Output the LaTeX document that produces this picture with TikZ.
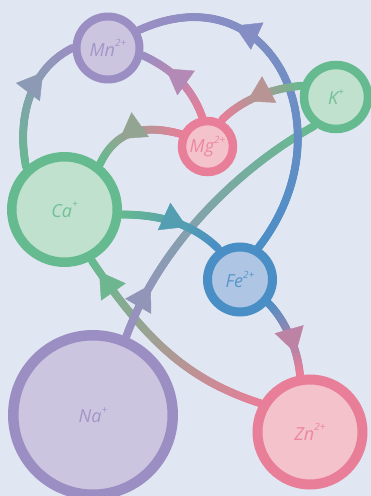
\documentclass[tikz,border=0pt]{standalone}
\usepackage{fontspec}
\setmainfont{Open Sans}
\usetikzlibrary{arrows.meta,decorations.markings}

\definecolor{bgcol}{HTML}{E1E7F2}
\definecolor{purpline}{HTML}{9B8EC3}
\definecolor{purpfill}{HTML}{CBC5E0}
\definecolor{pinkline}{HTML}{E97E98}
\definecolor{pinkfill}{HTML}{F4C2CB}
\definecolor{greenline}{HTML}{66BA8F}
\definecolor{greenfill}{HTML}{BFE1CD}
\definecolor{blueline}{HTML}{4A8EC6}
\definecolor{bluefill}{HTML}{AEC6E4}

\pgfdeclarelayer{front}
\pgfsetlayers{main,front}

\newcommand{\chg}[1]{\raisebox{1ex}{\fontsize{10}{10}\selectfont #1}}

\begin{document}
\begin{tikzpicture}[x=1pt,y=1pt]
\tikzset{
ion/.style={circle, draw, inner sep=0pt, line width=8.5pt, text centered,
font=\itshape\fontsize{18}{18}\selectfont},
purpleion/.style={draw=purpline, fill=purpfill, text=purpline!85!purpfill},
pinkion/.style={draw=pinkline, fill=pinkfill, text=pinkline!85!pinkfill},
greenion/.style={draw=greenline, fill=greenfill, text=greenline!85!greenfill},
blueion/.style={draw=blueline, fill=bluefill, text=blueline!85!bluefill},
flow/.style n args={3}{
postaction={decorate, decoration={markings,
mark=between positions 0 and 1 step 1pt with {
\pgfmathtruncatemacro\pct{\pgfkeysvalueof{/pgf/decoration/mark info/distance from start}/\pgfdecoratedpathlength*100}
\fill[#2!\pct!#1] (0,0) circle (4pt);}}},
postaction={decorate, decoration={markings,
mark=at position #3 with {
\pgfmathtruncatemacro\pct{100*#3}
\arrow[#2!\pct!#1]{Triangle[length=25pt,width=30pt]}}}}},
}
\useasboundingbox (0,0) rectangle (371,496);
\fill[bgcol] (0,0) rectangle (371,496);

\begin{pgfonlayer}{front}
\node [ion, greenion, minimum size=105.5pt, line width=9.5pt] (ca) at (64.5,286.5) {Ca\chg{+}};
\node [ion, purpleion, minimum size=63pt, line width=8pt, above of=ca, node distance=161.5pt, xshift=43.5pt] (mn) {Mn\chg{2+}};
\node [ion, pinkion, minimum size=51pt, right of=ca, node distance=143pt, yshift=63pt] (mg) {Mg\chg{2+}};
\node [ion, greenion, minimum size=64pt, right of=mg, node distance=128.5pt, yshift=49.5pt] (k) {K\chg{+}};
\node [ion, blueion, minimum size=65pt, line width=9pt, right of=ca, node distance=175.5pt, yshift=-70pt] (fe) {Fe\chg{2+}};
\node [ion, purpleion, minimum size=159.5pt, line width=10.5pt, below of=ca, node distance=205.5pt, xshift=28.5pt] (na) {Na\chg{+}};
\node [ion, pinkion, minimum size=105pt, line width=10pt, below of=fe, node distance=152.5pt, xshift=70pt] (zn) {Zn\chg{2+}};
\end{pgfonlayer}

\path[flow={pinkline}{greenline}{0.94}] (zn.150) .. controls +(162:75) and +(-56:99) .. (ca.-62);
\path[flow={purpline}{greenline}{0.2}] (na.67) .. controls +(70:98.5) and +(209:85) .. (k.233);
\path[flow={greenline}{blueline}{0.63}] (ca.-5) .. controls +(0:40) and +(135:35) .. (fe.125);
\path[flow={blueline}{pinkline}{0.72}] (fe.-40) .. controls +(-45:25) and +(95:25) .. (zn.100);
\path[flow={blueline}{purpline}{0.72}] (fe.60) .. controls (350,366) and (270,526) .. (mn.30);
\path[flow={greenline}{purpline}{0.72}] (ca.132) .. controls (16,381) and (32,428) .. (mn.180);
\path[flow={pinkline}{purpline}{0.7}] (mg.100) .. controls +(110:30) and +(-25:35) .. (mn.-12);
\path[flow={greenline}{pinkline}{0.64}] (k.162) .. controls +(185:30) and +(45:30) .. (mg.62);
\path[flow={pinkline}{greenline}{0.66}] (mg.155) .. controls +(165:40) and +(65:36) .. (ca.52);
\end{tikzpicture}
\end{document}
